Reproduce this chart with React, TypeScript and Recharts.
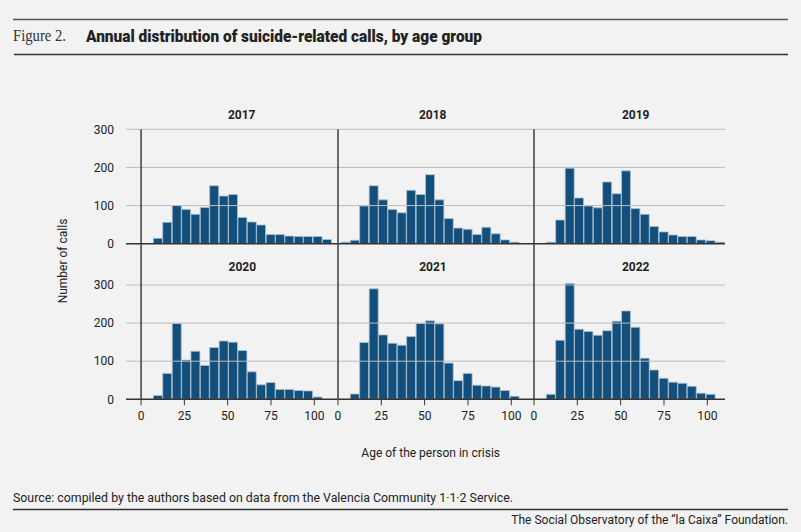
import React from 'react';
import { ComposedChart, Bar, XAxis, YAxis, ReferenceLine } from 'recharts';

// Histogram bin centres (age, years)
const binCenters = [4.4, 9.8, 15.2, 20.7, 26.1, 31.5, 36.9, 42.3, 47.8, 53.2, 58.6, 64.0, 69.4, 74.9, 80.3, 85.7, 91.1, 96.5, 102.0, 107.4];

const calls2017 = [null, 14, 56, 100, 90, 77, 95, 152, 125, 129, 69, 57, 49, 24, 24, 20, 19, 19, 19, 11];
const calls2018 = [4, 9, 99, 152, 115, 90, 81, 140, 129, 181, 115, 66, 41, 38, 24, 43, 26, 10, 4, null];
const calls2019 = [null, 4, 62, 198, 120, 99, 94, 162, 131, 191, 92, 77, 45, 31, 23, 19, 19, 10, 8, 4];
const calls2020 = [null, 10, 68, 199, 103, 126, 89, 136, 153, 150, 128, 72, 38, 44, 26, 26, 23, 22, 6, null];
const calls2021 = [null, 14, 149, 290, 169, 147, 142, 165, 199, 206, 198, 95, 49, 68, 37, 35, 32, 23, 8, null];
const calls2022 = [null, 13, 155, 304, 184, 178, 168, 180, 205, 232, 189, 108, 77, 55, 45, 42, 34, 16, 13, null];

const years = ['2017', '2018', '2019', '2020', '2021', '2022'];
const seriesList = [calls2017, calls2018, calls2019, calls2020, calls2021, calls2022];

const xTicks = [0, 25, 50, 75, 100];
const yTicks = [0, 100, 200, 300];
const gridValues = [100, 200, 300];

const BAR_FILL = '#134f7a';
const BAR_STROKE = '#a9c1d4';
const DARK = '#333333';
const GRID = '#bdbdbd';
const TEXT = '#222222';
const FONT = 'Roboto, "Liberation Sans", sans-serif';

// layout of panels (page pixels)
const cols = [
  { left: 60, width: 277.5, marginLeft: 0, yAxisWidth: 66, domain: [-8.7, 113.4] },
  { left: 322.5, width: 211.5, marginLeft: 15, yAxisWidth: 0, domain: [0, 113.4] },
  { left: 519, width: 206, marginLeft: 15, yAxisWidth: 0, domain: [0, 110.2] },
];
const rows = [
  { top: 100, height: 150, margin: { top: 29.3, bottom: 6.3 }, yDomain: [0, 300], showX: false },
  { top: 240, height: 189.3, margin: { top: 3.7, bottom: 0 }, yDomain: [0, 408.4], showX: true },
];
const titlePos = [
  { x: 241.7, y: 118.6 },
  { x: 432.7, y: 118.6 },
  { x: 635.7, y: 118.6 },
  { x: 242.3, y: 271 },
  { x: 433, y: 271 },
  { x: 635.7, y: 271 },
];

function Panel({ idx }: { idx: number }) {
  const c = cols[idx % 3];
  const r = rows[Math.floor(idx / 3)];
  const data = binCenters.map((age, i) => ({ age, calls: seriesList[idx][i] }));
  return (
    <div style={{ position: 'absolute', left: c.left, top: r.top }}>
      <ComposedChart
        width={c.width}
        height={r.height}
        data={data}
        margin={{ top: r.margin.top, bottom: r.margin.bottom, left: c.marginLeft, right: 0 }}
        barCategoryGap={0}
        barGap={0}
      >
        <XAxis
          dataKey="age"
          type="number"
          domain={c.domain}
          ticks={xTicks}
          interval={0}
          allowDataOverflow
          hide={!r.showX}
          height={30}
          axisLine={false}
          tickLine={{ stroke: DARK, strokeWidth: 1 }}
          tickSize={6}
          tickMargin={6}
          tick={{ fontSize: 12, fill: TEXT, fontFamily: FONT }}
        />
        <YAxis
          type="number"
          domain={r.yDomain}
          ticks={yTicks}
          interval={0}
          allowDataOverflow
          hide={idx % 3 !== 0}
          width={c.yAxisWidth || 60}
          axisLine={false}
          tickLine={false}
          tickSize={0}
          tickMargin={12}
          tick={{ fontSize: 12, fill: TEXT, fontFamily: FONT }}
        />
        {gridValues.map((v) => (
          <ReferenceLine key={v} y={v} stroke={GRID} strokeWidth={1} />
        ))}
        <Bar
          dataKey="calls"
          fill={BAR_FILL}
          stroke={BAR_STROKE}
          strokeWidth={0.8}
          isAnimationActive={false}
        />
        <ReferenceLine y={0} stroke={DARK} strokeWidth={1.4} />
        <ReferenceLine x={0} stroke={DARK} strokeWidth={1.4} />
      </ComposedChart>
    </div>
  );
}

export default function App() {
  return (
    <div
      style={{
        position: 'absolute',
        left: 0,
        top: 0,
        width: 801,
        height: 532,
        background: '#f2f2f2',
        overflow: 'hidden',
        fontFamily: FONT,
      }}
    >
      {years.map((y, i) => (
        <Panel key={y} idx={i} />
      ))}
      <svg
        width={801}
        height={532}
        style={{ position: 'absolute', left: 0, top: 0, pointerEvents: 'none' }}
      >
        {/* header */}
        <line x1={13} x2={788} y1={19.5} y2={19.5} stroke="#555" strokeWidth={1.3} />
        <text
          x={13}
          y={41}
          fontFamily='"Liberation Serif", serif'
          fontSize={16}
          fill="#333"
          textLength={53}
          lengthAdjust="spacingAndGlyphs"
        >
          Figure 2.
        </text>
        <text
          x={86}
          y={41.5}
          fontFamily={FONT}
          fontWeight={900}
          fontSize={16.5}
          fill={TEXT}
          textLength={396}
          lengthAdjust="spacingAndGlyphs"
        >
          Annual distribution of suicide-related calls, by age group
        </text>
        <line x1={14} x2={788} y1={54.5} y2={54.5} stroke={DARK} strokeWidth={1.7} />

        {/* panel titles */}
        {years.map((y, i) => (
          <text
            key={y}
            x={titlePos[i].x}
            y={titlePos[i].y}
            textAnchor="middle"
            fontFamily={FONT}
            fontWeight="bold"
            fontSize={12}
            fill={TEXT}
          >
            {y}
          </text>
        ))}

        {/* axis titles */}
        <text
          transform="translate(67.3, 261) rotate(-90)"
          textAnchor="middle"
          fontFamily={FONT}
          fontSize={12}
          fill={TEXT}
        >
          Number of calls
        </text>
        <text
          x={430.7}
          y={457}
          textAnchor="middle"
          fontFamily={FONT}
          fontSize={12}
          fill={TEXT}
        >
          Age of the person in crisis
        </text>

        {/* footer */}
        <text
          x={13}
          y={502}
          fontFamily={FONT}
          fontSize={12}
          fill={TEXT}
          textLength={500}
          lengthAdjust="spacingAndGlyphs"
        >
          Source: compiled by the authors based on data from the Valencia Community 1·1·2 Service.
        </text>
        <line x1={13} x2={788} y1={509.5} y2={509.5} stroke={DARK} strokeWidth={1.6} />
        <text
          x={788}
          y={524}
          textAnchor="end"
          fontFamily={FONT}
          fontSize={12}
          fill={TEXT}
        >
          The Social Observatory of the “la Caixa” Foundation.
        </text>
      </svg>
    </div>
  );
}
